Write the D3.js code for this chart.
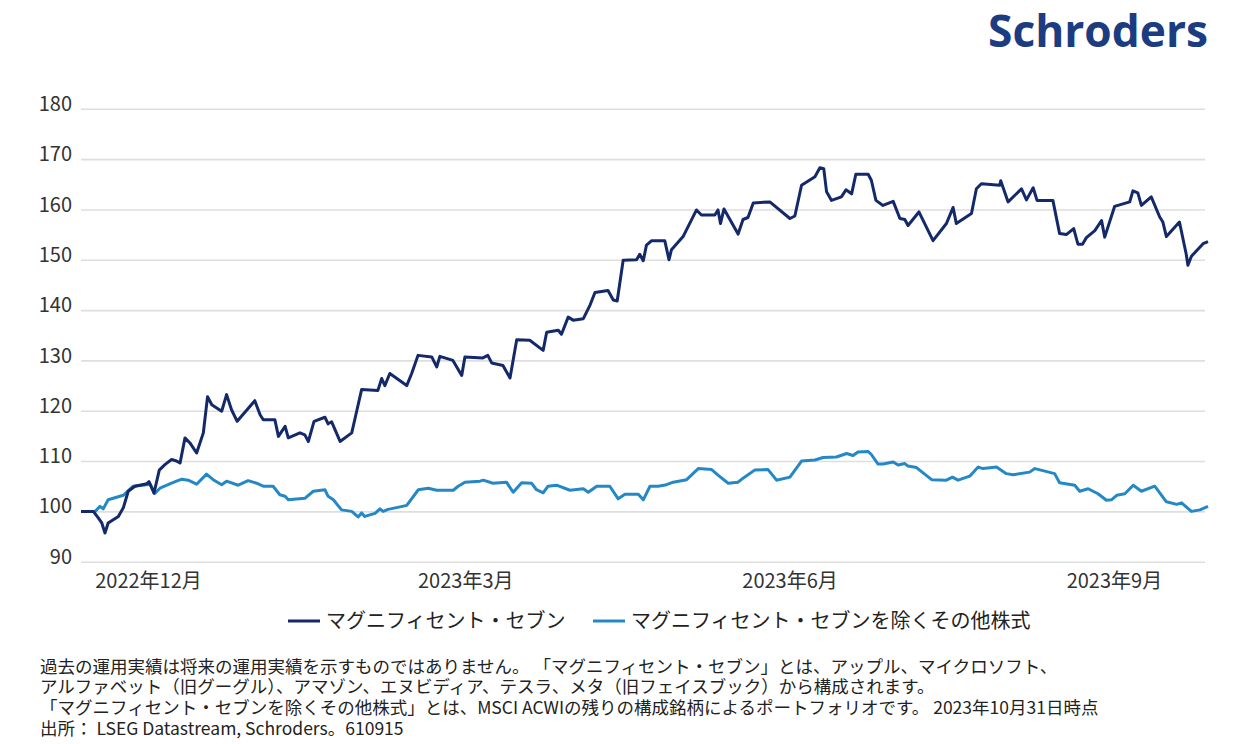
<!DOCTYPE html>
<html>
<head>
<meta charset="utf-8">
<script src="https://cdn.jsdelivr.net/npm/d3@7"></script>
<style>
body { margin: 0; background: #fff; }
svg { display: block; font-family: "Noto Sans CJK JP", "Noto Sans", sans-serif; }
</style>
</head>
<body>
<svg id="chart"></svg>
<script>
const width = 1250;
const height = 744;

// series: [days since 2022-11-12, index value (start = 100)]
const startDate = new Date(2022, 10, 12);
const mag7 = [
	[0, 100], [3.5, 100], [4.9, 98.7], [5.9, 97.7], [6.8, 95.7], [7.7, 97.7], [10.6, 99], [12.0, 100.7],
	[13.4, 104], [15.3, 105], [18.7, 105.5], [19.3, 105.9], [20.7, 103.6], [22.2, 108.2], [23.8, 109.3],
	[25.7, 110.3], [27.1, 110], [28.1, 109.6], [29.5, 114.6], [30.9, 113.6], [32.8, 111.6], [34.7, 115.6],
	[35.9, 122.8], [37.1, 121.2], [39.9, 119.9], [41.3, 123.2], [42.7, 120.2], [44.3, 117.9], [49.3, 122],
	[50.8, 119.2], [51.7, 118.2], [55.0, 118.2], [56.0, 114.9], [57.9, 116.9], [58.8, 114.6], [62.1, 115.6],
	[63.5, 115.2], [64.5, 113.9], [66.1, 117.9], [69.2, 118.7], [70.1, 117.4], [71.1, 117.8], [73.5, 113.9],
	[76.8, 115.6], [78.2, 119.9], [79.6, 124.2], [84.2, 124], [85.3, 126.4], [86.2, 125], [87.6, 127.4],
	[92.4, 125], [93.8, 127.4], [95.6, 131], [99.5, 130.7], [100.9, 128.7], [101.8, 130.8], [105.5, 130],
	[108.0, 127], [108.9, 130.7], [114.0, 130.5], [115.4, 131], [116.5, 129.5], [119.7, 129], [121.7, 126.5],
	[123.6, 134.1], [127.3, 134], [131.1, 132], [132.1, 135.6], [135.4, 136], [136.3, 135.2], [138.2, 138.6],
	[139.6, 138], [142.5, 138.3], [144.4, 141], [145.8, 143.5], [149.5, 143.9], [151.0, 142], [152.1, 141.8],
	[153.8, 149.9], [157.6, 150], [158.5, 151.1], [159.5, 149.8], [160.4, 152.9], [161.9, 153.8], [165.6, 153.8],
	[166.8, 150], [167.5, 152], [170.8, 154.6], [174.6, 159.9], [176.0, 158.9], [179.8, 158.9], [180.7, 159.9],
	[181.4, 157.2], [182.4, 160.1], [186.4, 155.1], [187.8, 158], [189.2, 158.4], [190.7, 161.3], [195.4, 161.5],
	[201.1, 158.2], [202.5, 158.7], [204.4, 164.8], [208.2, 166.5], [209.6, 168.3], [210.7, 168.1], [211.5, 163.5],
	[212.9, 161.8], [215.7, 162.5], [217.0, 163.9], [218.6, 163.1], [219.8, 167], [223.3, 167], [224.2, 165.8],
	[225.5, 161.8], [227.5, 160.8], [230.4, 161.6], [232.3, 158.2], [233.7, 158], [234.6, 156.8], [237.7, 159.5],
	[241.7, 153.8], [245.5, 157.2], [247.4, 160.4], [248.3, 157.2], [252.6, 159.2], [254.0, 164.1], [255.4, 165.1],
	[260.6, 164.8], [260.9, 165.7], [263.0, 161.5], [266.8, 164.1], [268.2, 161.9], [270.1, 164.3], [271.2, 161.8],
	[275.7, 161.8], [277.6, 155.2], [279.5, 155], [281.6, 156.2], [282.8, 153.1], [284.1, 153.1], [285.2, 154.4],
	[287.6, 155.8], [289.5, 157.8], [290.4, 154.5], [293.2, 160.6], [297.5, 161.5], [298.4, 163.7], [299.8, 163.3],
	[300.8, 160.8], [303.6, 162.5], [306.0, 158.5], [306.9, 157.5], [307.9, 154.6], [311.6, 157.5], [313.5, 151.2],
	[314.0, 148.9], [315.0, 150.7], [318.3, 153.2], [319.7, 153.6]
];
const others = [
	[0, 100], [4.0, 100], [5.4, 101], [6.3, 100.5], [7.7, 102.3], [12.0, 103.2], [14.8, 105], [18.6, 105.3],
	[19.6, 105.4], [21.0, 103.6], [22.4, 104.6], [25.7, 105.6], [27.1, 106], [28.6, 106.4], [30.4, 106.2],
	[32.8, 105.4], [35.6, 107.4], [37.5, 106.3], [39.9, 105.3], [41.3, 106], [44.6, 105.2], [47.4, 106.1],
	[49.8, 105.6], [51.7, 105], [54.5, 105], [56.4, 103.3], [57.9, 103], [58.8, 102.3], [63.5, 102.6],
	[65.9, 104], [69.2, 104.3], [70.1, 103], [71.6, 102.3], [73.9, 100.3], [76.8, 100], [78.6, 98.9],
	[79.6, 99.7], [80.5, 99], [83.4, 99.6], [84.8, 100.5], [85.7, 100], [87.1, 100.4], [90.5, 100.9],
	[92.4, 101.2], [95.7, 104.3], [98.5, 104.6], [100.9, 104.2], [105.6, 104.2], [107.0, 105], [108.9, 105.8],
	[113.2, 106], [114.1, 106.2], [116.9, 105.6], [120.7, 105.8], [122.6, 103.8], [125.0, 105.7], [127.8, 105.6],
	[129.2, 104.3], [131.1, 103.7], [132.5, 105], [134.9, 105.2], [138.7, 104.2], [142.5, 104.5], [143.9, 103.8],
	[146.3, 105], [150.0, 105], [152.4, 102.5], [154.3, 103.4], [158.1, 103.4], [159.5, 102.3], [161.4, 105],
	[163.7, 105], [166.1, 105.3], [168.0, 105.8], [171.8, 106.3], [175.1, 108.5], [178.9, 108.3], [180.7, 107.2],
	[183.6, 105.6], [186.4, 105.8], [187.8, 106.6], [191.1, 108.2], [194.9, 108.3], [197.3, 106.2], [201.1, 106.8],
	[204.4, 110], [208.2, 110.2], [210.5, 110.7], [214.3, 110.8], [217.2, 111.5], [219.0, 111.1], [220.4, 111.8],
	[223.3, 111.9], [224.2, 111.3], [226.1, 109.4], [227.5, 109.4], [230.4, 109.8], [231.8, 109.2], [233.7, 109.5],
	[234.6, 109], [237.0, 108.7], [241.3, 106.3], [245.5, 106.2], [247.2, 106.8], [248.8, 106.2], [252.1, 107],
	[254.5, 108.8], [255.9, 108.5], [259.7, 108.8], [262.5, 107.5], [264.4, 107.3], [269.1, 107.8], [270.6, 108.5],
	[276.2, 107.5], [277.6, 105.7], [281.9, 105.2], [283.3, 104], [285.7, 104.5], [288.5, 103.5], [290.9, 102.2],
	[292.3, 102.3], [293.8, 103.2], [296.1, 103.5], [298.5, 105.2], [300.8, 104], [304.6, 105], [307.9, 101.9],
	[310.8, 101.4], [312.2, 101.7], [315.0, 100], [317.4, 100.3], [319.7, 101]
];
const seriesNames = ['マグニフィセント・セブン', 'マグニフィセント・セブンを除くその他株式'];
const seriesColors = ['#13296a', '#2588c6'];
const yTicks = [90, 100, 110, 120, 130, 140, 150, 160, 170, 180];
const xTicks = [new Date(2022, 11, 1), new Date(2023, 2, 1), new Date(2023, 5, 1), new Date(2023, 8, 1)];
const xTickLabels = ['2022年12月', '2023年3月', '2023年6月', '2023年9月'];
const notes = [
	'過去の運用実績は将来の運用実績を示すものではありません。 「マグニフィセント・セブン」とは、アップル、マイクロソフト、',
	'アルファベット（旧グーグル）、アマゾン、エヌビディア、テスラ、メタ（旧フェイスブック）から構成されます。',
	'「マグニフィセント・セブンを除くその他株式」とは、MSCI ACWIの残りの構成銘柄によるポートフォリオです。 2023年10月31日時点',
	'出所： LSEG Datastream, Schroders。610915'
];

const toDate = d => new Date(startDate.getTime() + d * 864e5);

const svg = d3.select('#chart')
	.attr('width', width)
	.attr('height', height);

const x = d3.scaleTime()
	.domain([startDate, toDate(319.7)])
	.range([81, 1208]);
const y = d3.scaleLinear()
	.domain([90, 180])
	.range([561.7, 108.8]);

// gridlines + y labels
const yAxis = svg.append('g')
	.attr('transform', 'translate(81,0)')
	.call(d3.axisLeft(y).tickValues(yTicks).tickSize(-1124).tickPadding(9));
yAxis.select('.domain').remove();
yAxis.selectAll('line').attr('stroke', '#dedede').attr('stroke-width', 1.6);
yAxis.selectAll('text')
	.attr('font-family', '"Noto Sans CJK JP", "Noto Sans", sans-serif')
	.attr('font-size', 20)
	.attr('fill', '#333')
	.attr('dy', '0.08em');

// x labels
const xAxis = svg.append('g')
	.attr('transform', 'translate(0,561.7)')
	.call(d3.axisBottom(x).tickValues(xTicks).tickSize(0).tickPadding(12)
		.tickFormat((d, i) => xTickLabels[i]));
xAxis.select('.domain').remove();
xAxis.selectAll('text')
	.attr('font-family', '"Noto Sans CJK JP", "Noto Sans", sans-serif')
	.attr('font-size', 20)
	.attr('fill', '#333');

// lines
const line = d3.line()
	.x(d => x(toDate(d[0])))
	.y(d => y(d[1]));

[others, mag7].forEach((s, i) => {
	svg.append('path')
		.datum(s)
		.attr('fill', 'none')
		.attr('stroke', seriesColors[1 - i])
		.attr('stroke-width', 3)
		.attr('stroke-linejoin', 'round')
		.attr('d', line);
});

// legend
const legendX = [288, 593];
seriesNames.forEach((name, i) => {
	const g = svg.append('g').attr('transform', `translate(${legendX[i]},621)`);
	g.append('line')
		.attr('x1', 0).attr('x2', 32)
		.attr('stroke', seriesColors[i])
		.attr('stroke-width', 3);
	g.append('text')
		.attr('x', 38)
		.attr('y', 7)
		.attr('font-size', 20)
		.attr('fill', '#222')
		.text(name);
});

// notes (tight leading, as in the source)
svg.append('g')
	.selectAll('text')
	.data(notes)
	.join('text')
	.attr('x', 40)
	.attr('y', (d, i) => 672.5 + i * 20.7)
	.attr('font-size', 17.5)
	.attr('fill', '#222')
	.text(d => d);

// logo
svg.append('text')
	.attr('x', 988)
	.attr('y', 47)
	.attr('font-family', '"Open Sans", Lato, sans-serif')
	.attr('font-weight', 700)
	.attr('font-size', 44)
	.attr('fill', '#1b3c80')
	.attr('textLength', 220)
	.attr('lengthAdjust', 'spacingAndGlyphs')
	.text('Schroders');
</script>
</body>
</html>
